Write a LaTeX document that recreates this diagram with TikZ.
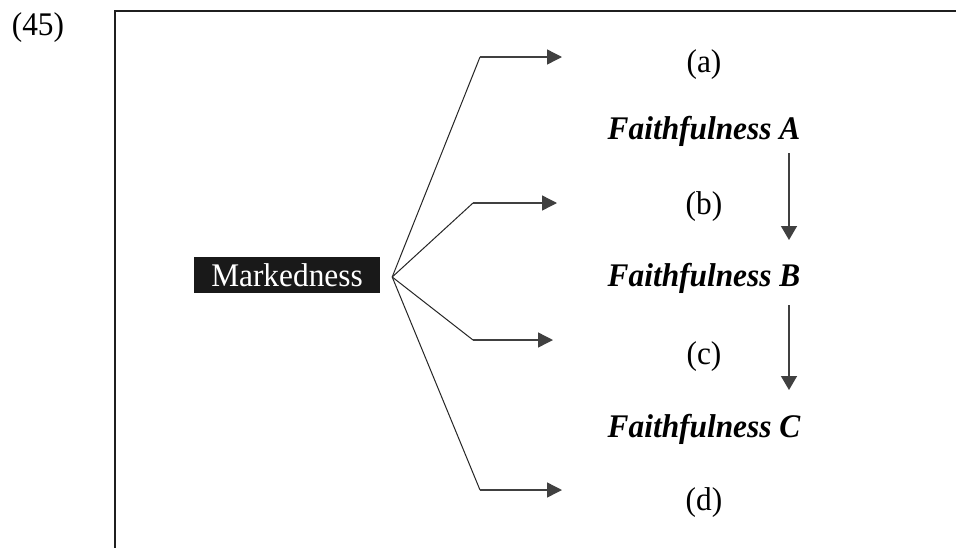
\documentclass[tikz,border=0pt]{standalone}
\usepackage{fontspec}
\setmainfont{Liberation Serif}[FakeStretch=0.95]
\usetikzlibrary{arrows.meta}
\tikzset{
  big/.style={font=\fontsize{33}{38}\selectfont, inner sep=0pt},
  lbl/.style={big},
  faith/.style={big, font=\fontsize{33}{38}\selectfont\bfseries\itshape, anchor=base},
  markbox/.style={big, fill=black!90, text=white, minimum width=186pt, minimum height=36pt},
  frameline/.style={line width=2pt, draw=black!88},
  branch/.style={line width=1pt, black!85},
  harrow/.style={line width=1.4pt, black!75, -{Triangle[length=15pt,width=15pt]}},
  varrow/.style={line width=1.4pt, black!75, -{Triangle[length=14pt,width=16pt]}}
}
\begin{document}
\begin{tikzpicture}[x=1pt,y=-1pt]
  \clip (0,0) rectangle (956,547);
  \fill[white] (0,0) rectangle (956,547);

  % frame, open to the right and bottom
  \draw[frameline] (115,600) -- (115,11) -- (1000,11);

  % example number
  \node[big] (num) at (38,28) {(45)};

  % central constraint
  \node[markbox] (m) at (287,275) {Markedness};
  \coordinate (apex) at ([xshift=12pt,yshift=-2pt]m.east);

  % outcome labels
  \node[lbl] (la) at (704,65)  {(a)};
  \node[lbl] (lb) at (704,207) {(b)};
  \node[lbl] (lc) at (704,357) {(c)};
  \node[lbl] (ld) at (704,503) {(d)};

  % faithfulness ranking
  \node[faith] (fa) at (704,139) {Faithfulness A};
  \node[faith] (fb) at (704,286) {Faithfulness B};
  \node[faith] (fc) at (704,437) {Faithfulness C};

  % fan of branches from the apex
  \coordinate (ca) at (480,57);
  \coordinate (cb) at (473,203);
  \coordinate (cc) at (473,340);
  \coordinate (cd) at (480,490);
  \coordinate (ta) at (562,57);
  \coordinate (tb) at (557,203);
  \coordinate (tc) at (553,340);
  \coordinate (td) at (562,490);
  \foreach \c in {a,b,c,d}{
    \draw[branch] (apex) -- (c\c);
    \draw[harrow] (c\c) -- (t\c);
  }

  % ranking arrows
  \coordinate (v1s) at (789,153);
  \coordinate (v1e) at (789,240);
  \coordinate (v2s) at (789,305);
  \coordinate (v2e) at (789,390);
  \draw[varrow] (v1s) -- (v1e);
  \draw[varrow] (v2s) -- (v2e);
\end{tikzpicture}
\end{document}
